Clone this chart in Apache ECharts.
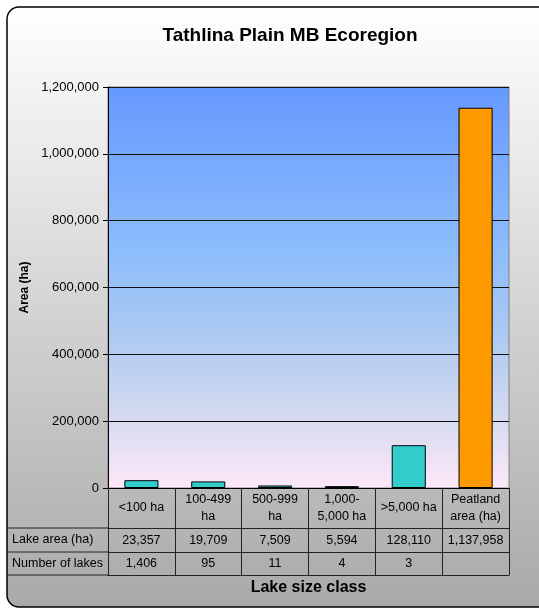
<!DOCTYPE html>
<html>
<head>
<meta charset="utf-8">
<script src="https://cdn.jsdelivr.net/npm/echarts@6/dist/echarts.min.js"></script>
<style>
html,body{margin:0;padding:0;background:#fff;}
#c{width:539px;height:610px;}
</style>
</head>
<body>
<div id="c"></div>
<script>
// ---- data ----
var categories = ['<100 ha', '100-499\nha', '500-999\nha', '1,000-\n5,000 ha', '>5,000 ha', 'Peatland\narea (ha)'];
var lakeArea = [23357, 19709, 7509, 5594, 128110, 1137958];
var lakeCount = [1406, 95, 11, 4, 3, null];
var rowLabels = ['Lake area (ha)', 'Number of lakes'];
var barColors = ['#33CCCC', '#33CCCC', '#33CCCC', '#33CCCC', '#33CCCC', '#FF9900'];
var yMin = 0, yMax = 1200000, yInterval = 200000;

function fmt(v) {
  if (v === null || v === undefined) return '';
  return String(v).replace(/\B(?=(\d{3})+(?!\d))/g, ',');
}

// ---- layout ----
var W = 539, H = 610;
var gridLeft = 108, gridRight = 30, gridTop = 87, gridBottom = 122;
var zeroY = H - gridBottom;
var rowOff = [40, 64, 87];
var tableLeft = 7;
var lineCol = '#222';
var FONT = '"Liberation Sans", Arial, sans-serif';
var TFS = 12.5;

var chart = echarts.init(document.getElementById('c'), null, {renderer: 'canvas'});

var graphics = [
  {
    type: 'rect', z: -100, silent: true,
    shape: {x: 7, y: 7, width: 545, height: 600, r: 12},
    style: {
      fill: new echarts.graphic.LinearGradient(0, 0, 0, 1, [
        {offset: 0, color: '#ffffff'},
        {offset: 1, color: '#a9a9a9'}
      ]),
      stroke: '#000', lineWidth: 1.5
    }
  }
];
rowOff.forEach(function (o) {
  graphics.push({
    type: 'line', silent: true,
    shape: {x1: tableLeft, y1: zeroY + o, x2: gridLeft, y2: zeroY + o},
    style: {stroke: lineCol, lineWidth: 1}
  });
});
rowLabels.forEach(function (t, i) {
  graphics.push({
    type: 'text', silent: true,
    x: tableLeft + 5, y: zeroY + (rowOff[i] + rowOff[i + 1]) / 2,
    style: {text: t, fontSize: TFS, fontFamily: FONT, fill: '#000', verticalAlign: 'middle', align: 'left'}
  });
});

var option = {
  animation: false,
  title: {
    text: 'Tathlina Plain MB Ecoregion',
    left: 285, top: 21, textAlign: 'center',
    textStyle: {fontSize: 19, fontWeight: 'bold', color: '#000', fontFamily: FONT}
  },
  graphic: graphics,
  grid: {
    left: gridLeft, right: gridRight, top: gridTop, bottom: gridBottom,
    show: true, borderColor: '#808080', borderWidth: 1,
    backgroundColor: new echarts.graphic.LinearGradient(0, 0, 0, 1, [
      {offset: 0, color: '#6699ff'},
      {offset: 0.4, color: '#8bbcfc'},
      {offset: 0.6, color: '#a9c8f2'},
      {offset: 0.8, color: '#d0d8ef'},
      {offset: 1, color: '#fde8f8'}
    ])
  },
  yAxis: {
    type: 'value', min: yMin, max: yMax, interval: yInterval,
    name: 'Area (ha)', nameLocation: 'middle', nameRotate: 90, nameGap: 77,
    nameTextStyle: {fontSize: 12, fontWeight: 'bold', color: '#000', fontFamily: FONT},
    axisLine: {show: true, lineStyle: {color: '#000', width: 1}},
    axisTick: {show: true, length: 5, lineStyle: {color: '#000'}},
    axisLabel: {margin: 9, fontSize: 13, color: '#000', fontFamily: FONT, formatter: function (v) { return fmt(v); }},
    splitLine: {show: true, lineStyle: {color: '#111', width: 1}}
  },
  xAxis: [
    {
      type: 'category', data: categories, gridIndex: 0, position: 'bottom',
      axisLine: {show: true, lineStyle: {color: '#000', width: 1}},
      axisTick: {show: true, interval: 0, length: rowOff[2], lineStyle: {color: lineCol}},
      axisLabel: {interval: 0, margin: 20, verticalAlign: 'middle', lineHeight: 17, fontSize: TFS, color: '#000', fontFamily: FONT}
    },
    {
      type: 'category', data: lakeArea.map(fmt), gridIndex: 0, position: 'bottom', offset: rowOff[0],
      axisLine: {show: true, lineStyle: {color: lineCol, width: 1}},
      axisTick: {show: false},
      axisLabel: {interval: 0, margin: 13, verticalAlign: 'middle', fontSize: TFS, color: '#000', fontFamily: FONT}
    },
    {
      type: 'category', data: lakeCount.map(fmt), gridIndex: 0, position: 'bottom', offset: rowOff[1],
      axisLine: {show: true, lineStyle: {color: lineCol, width: 1}},
      axisTick: {show: false},
      axisLabel: {interval: 0, margin: 12, verticalAlign: 'middle', fontSize: TFS, color: '#000', fontFamily: FONT}
    },
    {
      type: 'category', data: categories, gridIndex: 0, position: 'bottom', offset: rowOff[2],
      axisLine: {show: true, lineStyle: {color: lineCol, width: 1}},
      axisTick: {show: false},
      axisLabel: {show: false},
      name: 'Lake size class', nameLocation: 'middle', nameGap: 5,
      nameTextStyle: {fontSize: 16, fontWeight: 'bold', color: '#000', fontFamily: FONT, verticalAlign: 'top'}
    }
  ],
  series: [{
    type: 'bar', xAxisIndex: 0, yAxisIndex: 0, barWidth: '51%',
    data: lakeArea.map(function (v, i) {
      return {value: v, itemStyle: {color: barColors[i], borderColor: '#000', borderWidth: 1}};
    })
  }]
};
chart.setOption(option);
</script>
</body>
</html>
